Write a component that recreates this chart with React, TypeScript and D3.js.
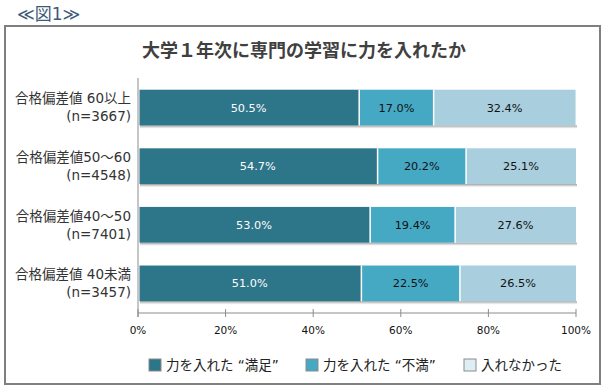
import React from "react";
import * as d3 from "d3";

const categories = ["合格偏差値 60以上", "合格偏差値50～60", "合格偏差値40～50", "合格偏差値 40未満"];
const sampleSizes = ["(n=3667)", "(n=4548)", "(n=7401)", "(n=3457)"];
const seriesNames = ["力を入れた “満足”", "力を入れた “不満”", "入れなかった"];
const satisfied = [50.5, 54.7, 53.0, 51.0];
const unsatisfied = [17.0, 20.2, 19.4, 22.5];
const notEngaged = [32.4, 25.1, 27.6, 26.5];
const xTicks = [0, 20, 40, 60, 80, 100];

const colors = ["#2d7588", "#45a9c4", "#a9cedd"];
const legendColors = ["#2d7588", "#45a9c4", "#ddeef5"];
const textColors = ["#ffffff", "#111111", "#111111"];
const FONT = "'DejaVu Sans', 'Noto Sans CJK JP', sans-serif";

const App: React.FC = () => {
	const width = 605;
	const height = 389;
	const margin = { top: 78, right: 29, bottom: 76, left: 138 };

	const x = d3.scaleLinear().domain([0, 100]).range([margin.left, width - margin.right]);
	const y = d3
		.scaleBand()
		.domain(categories)
		.range([margin.top, height - margin.bottom])
		.paddingInner(0.39)
		.paddingOuter(0.2);

	const series = [satisfied, unsatisfied, notEngaged];
	const rows = categories.map((c, i) => {
		let acc = 0;
		return series.map((s, k) => {
			const x0 = acc;
			acc += s[i];
			return { cat: c, k, v: s[i], x0, x1: acc };
		});
	});

	const axisY = height - margin.bottom;
	const legendX = [149, 306, 464];

	return (
		<svg width={width} height={height} style={{ position: "absolute", left: 0, top: 0 }} fontFamily={FONT}>
			<defs>
				<linearGradient id="shadow" x1="0" y1="0" x2="0" y2="1">
					<stop offset="0%" stopColor="#8c8c8c" stopOpacity={0.9} />
					<stop offset="100%" stopColor="#cfcfcf" stopOpacity={0.2} />
				</linearGradient>
			</defs>
			<rect x={0} y={0} width={width} height={height} fill="#ffffff" />
			<text x={17} y={20} fontSize={17} fill="#3d5a78">≪図1≫</text>
			<rect x={5} y={26} width={595} height={358} fill="none" stroke="#7f7f7f" strokeWidth={2} />
			<text x={304} y={57} textAnchor="middle" fontSize={18} fontWeight="bold" fill="#404040" fontFamily="'Noto Sans CJK JP', sans-serif">
				大学１年次に専門の学習に力を入れたか
			</text>

			{rows.map((segs, i) => {
				const yy = y(categories[i]) as number;
				const bh = y.bandwidth();
				return (
					<g key={i}>
						<rect x={x(0) + 2} y={yy + bh} width={x(100) - x(0) - 1} height={3} fill="url(#shadow)" />
						{segs.map((s) => (
							<rect
								key={s.k}
								x={x(s.x0) + (s.k === 0 ? 1.5 : 0)}
								y={yy}
								width={x(s.x1) - x(s.x0) - (s.k === 0 ? 1.5 : 0)}
								height={bh}
								fill={colors[s.k]}
							/>
						))}
						{segs.slice(1).map((s) => (
							<line key={"sep" + s.k} x1={x(s.x0)} x2={x(s.x0)} y1={yy} y2={yy + bh} stroke="#ffffff" strokeWidth={1.5} />
						))}
						{segs.map((s) => (
							<text
								key={"t" + s.k}
								x={(x(s.x0) + x(s.x1)) / 2}
								y={yy + bh / 2}
								dy="0.35em"
								textAnchor="middle"
								fontSize={11.3}
								fill={textColors[s.k]}
							>
								{s.v.toFixed(1)}%
							</text>
						))}
						<text x={131} y={yy + bh / 2 - 9} dy="0.35em" textAnchor="end" fontSize={13.5} fill="#333333">
							{categories[i]}
						</text>
						<text x={131} y={yy + bh / 2 + 9} dy="0.35em" textAnchor="end" fontSize={13.5} fill="#333333">
							{sampleSizes[i]}
						</text>
					</g>
				);
			})}

			<line x1={x(0)} x2={x(0)} y1={margin.top} y2={axisY + 4} stroke="#8c8c8c" strokeWidth={1} />
			<line x1={x(0)} x2={x(100)} y1={axisY} y2={axisY} stroke="#8c8c8c" strokeWidth={1} />
			{xTicks.map((t) => (
				<g key={t}>
					<line x1={x(t)} x2={x(t)} y1={axisY - 4} y2={axisY + 4} stroke="#8c8c8c" strokeWidth={1} />
					<text x={x(t)} y={axisY + 17} dy="0.35em" textAnchor="middle" fontSize={10.5} fill="#111111">
						{t}%
					</text>
				</g>
			))}

			{seriesNames.map((n, k) => (
				<g key={n}>
					<rect x={legendX[k]} y={359} width={12} height={12} fill={legendColors[k]} stroke="#8c8c8c" strokeWidth={1} />
					<text x={legendX[k] + 17} y={365} dy="0.35em" fontSize={13.5} fill="#222222">
						{n}
					</text>
				</g>
			))}
		</svg>
	);
};

export default App;
